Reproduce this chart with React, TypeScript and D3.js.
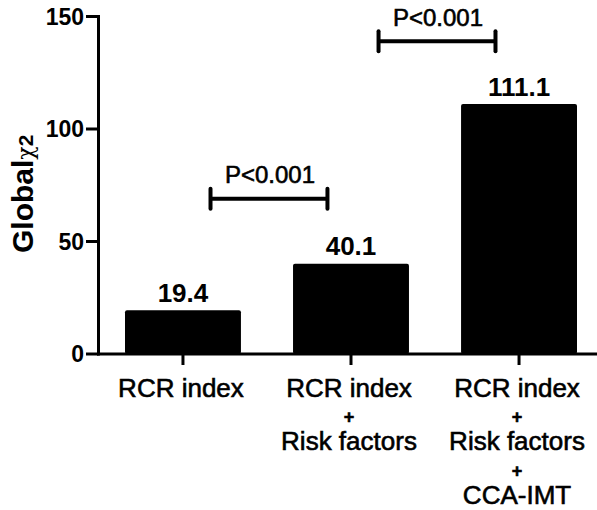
import React from "react";
import * as d3 from "d3";

// Model labels (one entry per line under each bar)
const categories: string[][] = [
  ["RCR index"],
  ["RCR index", "+", "Risk factors"],
  ["RCR index", "+", "Risk factors", "+", "CCA-IMT"],
];
const categoryKeys = ["m1", "m2", "m3"];
const globalChi2 = [19.4, 40.1, 111.1];
const yTicks = [0, 50, 100, 150];

// Pairwise comparisons drawn as brackets above the bars
const compareFrom = [0, 1];
const compareTo = [1, 2];
const compareLabels = ["P<0.001", "P<0.001"];
const compareLevels = [69, 139];

const W = 597;
const H = 510;
const FONT = "'Liberation Sans', Arial, Helvetica, sans-serif";

export default function App() {
  const axisX = 98.5;
  const baseY = 354;

  const y = d3.scaleLinear().domain([0, 150]).range([baseY, 16.5]);
  const x = d3
    .scaleBand<string>()
    .domain(categoryKeys)
    .range([125, 577])
    .paddingInner(0.31)
    .paddingOuter(0);
  const bw = x.bandwidth();
  const cx = (i: number) => (x(categoryKeys[i]) as number) + bw / 2;

  const lineH = 26.8;
  const firstLine = 396.5;

  return (
    <svg
      width={W}
      height={H}
      viewBox={`0 0 ${W} ${H}`}
      style={{ position: "absolute", left: 0, top: 0, background: "#fff" }}
      fontFamily={FONT}
    >
      <rect x={0} y={0} width={W} height={H} fill="#fff" />

      {/* bars */}
      {globalChi2.map((v, i) => (
        <rect
          key={categoryKeys[i]}
          x={x(categoryKeys[i])}
          y={y(v)}
          width={bw}
          height={baseY - y(v)}
          rx={2}
          fill="#000"
        />
      ))}

      {/* value labels */}
      {globalChi2.map((v, i) => (
        <text
          key={"v" + i}
          x={cx(i)}
          y={y(v) - 8.5}
          textAnchor="middle"
          fontSize={26}
          fontWeight="bold"
        >
          {v.toFixed(1)}
        </text>
      ))}

      {/* y axis */}
      <line x1={axisX} x2={axisX} y1={y(150) - 1.5} y2={baseY + 1.5} stroke="#000" strokeWidth={3} />
      {yTicks.map((t) => (
        <g key={t}>
          <line x1={86} x2={axisX} y1={y(t)} y2={y(t)} stroke="#000" strokeWidth={3} />
          <text
            x={84}
            y={y(t)}
            dy="0.36em"
            textAnchor="end"
            fontSize={23}
            fontWeight="bold"
          >
            {t}
          </text>
        </g>
      ))}

      {/* x axis */}
      <line x1={axisX - 1.5} x2={W} y1={baseY} y2={baseY} stroke="#000" strokeWidth={3} />
      {categoryKeys.map((k, i) => (
        <line key={"t" + k} x1={cx(i)} x2={cx(i)} y1={baseY} y2={365} stroke="#000" strokeWidth={3} />
      ))}

      {/* category labels */}
      {categories.map((lines, i) => (
        <text
          key={"c" + i}
          x={cx(i) - 2}
          textAnchor="middle"
          fill="#000"
          stroke="#000"
          strokeWidth={0.6}
        >
          {lines.map((ln, j) => (
            <tspan
              key={j}
              x={cx(i) - 2}
              y={firstLine + j * lineH}
              fontSize={ln === "+" ? 18 : 26}
              fontWeight={ln === "+" ? "bold" : "normal"}
            >
              {ln}
            </tspan>
          ))}
        </text>
      ))}

      {/* comparison brackets */}
      {compareFrom.map((a, i) => {
        const mid = (cx(a) + cx(compareTo[i])) / 2 + 2;
        const half = bw / 2 + 0.5;
        const ly = y(compareLevels[i]);
        return (
          <g key={"b" + i}>
            <line x1={mid - half} x2={mid + half} y1={ly} y2={ly} stroke="#000" strokeWidth={4} />
            <line x1={mid - half} x2={mid - half} y1={ly - 10} y2={ly + 10} stroke="#000" strokeWidth={4} strokeLinecap="round" />
            <line x1={mid + half} x2={mid + half} y1={ly - 10} y2={ly + 10} stroke="#000" strokeWidth={4} strokeLinecap="round" />
            <text
              x={mid + 1}
              y={ly - 15.5}
              textAnchor="middle"
              fontSize={24}
              fill="#000"
              stroke="#000"
              strokeWidth={0.6}
            >
              {compareLabels[i]}
            </text>
          </g>
        );
      })}

      {/* y axis title */}
      <text transform="translate(33,253) rotate(-90)" fill="#000">
        <tspan fontSize={30} fontWeight="bold">Global</tspan>
        <tspan fontSize={22} fontFamily="'DejaVu Serif', 'Liberation Serif', serif">χ</tspan>
        <tspan fontSize={21} fontWeight="bold">2</tspan>
      </text>
    </svg>
  );
}
